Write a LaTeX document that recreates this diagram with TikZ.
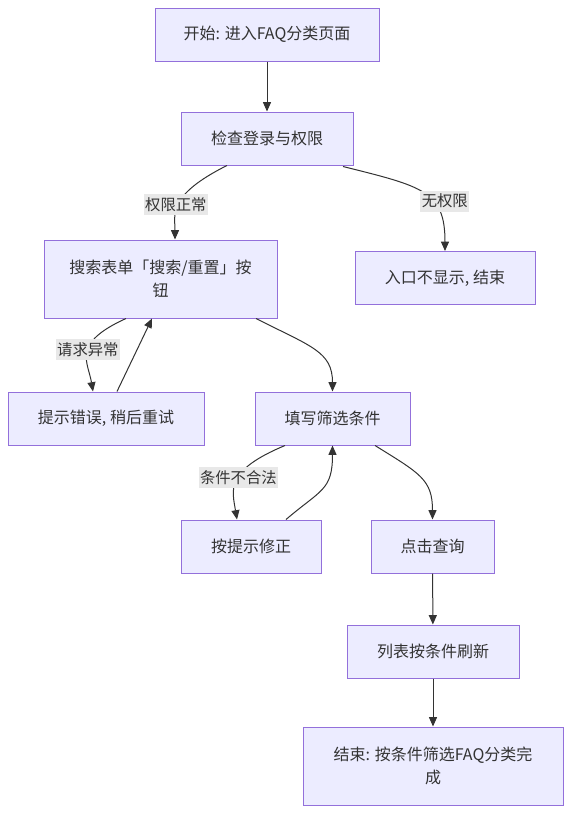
\documentclass[tikz,border=0pt]{standalone}
\usepackage{fontspec}
\setmainfont{Noto Sans CJK SC}
\usetikzlibrary{arrows.meta,automata}
\usetikzlibrary{positioning}
\usetikzlibrary{calc}
\definecolor{boxfill}{HTML}{ECECFF}
\definecolor{boxline}{HTML}{9370DB}
\definecolor{ink}{HTML}{333333}
\definecolor{labelbg}{HTML}{E8E8E8}

\begin{document}
\begin{tikzpicture}[x=0.75pt,y=-0.75pt,->,>={Triangle[length=7pt,width=6pt]},
					draw=ink,line width=0.75pt,text=ink,
					font=\fontsize{12}{17}\selectfont]
					\tikzstyle{every state}=[shape=rectangle,draw=boxline,fill=boxfill,
					minimum height=39.75pt,inner sep=0pt,align=center,text=ink]
					\tikzstyle{tall}=[minimum height=58.5pt]
					\tikzstyle{cond}=[fill=labelbg,inner xsep=1pt,inner ysep=2.5pt,text=ink,
					font=\fontsize{11.5}{13}\selectfont]
					\useasboundingbox (0,0) rectangle (571,814);
					
					\node[state,minimum width=168pt]      (start)   at (267,34.5)  {开始: 进入FAQ分类页面};
					\node[state,minimum width=129pt]      (check)   at (267,138.5) {检查登录与权限};
					\node[state,tall,minimum width=174.75pt] (search) at (160.5,279) {搜索表单「搜索/重置」按\\钮};
					\node[state,minimum width=135pt]      (noperm)  at (445,278)   {入口不显示, 结束};
					\node[state,minimum width=147pt]      (retry)   at (106,418.5) {提示错误, 稍后重试};
					\node[state,minimum width=116.25pt]   (fill)    at (332.5,418.5) {填写筛选条件};
					\node[state,minimum width=105pt]      (fix)     at (251,546.5) {按提示修正};
					\node[state,minimum width=92.25pt]    (click)   at (432.5,546.5) {点击查询};
					\node[state,minimum width=129pt]      (refresh) at (433,651.5) {列表按条件刷新};
					\node[state,tall,minimum width=195pt] (finish)  at (433,766)   {结束: 按条件筛选FAQ分类完\\成};
					
					\path (start) edge (check)
					($(retry.north)+(11,0)$) edge ($(search.south)+(-8.5,0)$)
					(click) edge (refresh)
					(refresh) edge (finish);
					
					\draw ($(check.south)+(-40,0)$) .. controls +(-60,30) and +(0,-25) .. node[cond,pos=0.5,xshift=-2pt] {权限正常} ($(search.north)+(14.5,0)$);
					\draw ($(check.south)+(76,1)$) .. controls +(80,20) and +(0,-60) .. node[cond,pos=0.6,xshift=9.5pt] {无权限} (noperm.north);
					\draw ($(search.south)+(-34.5,0)$) .. controls +(-55,25) and +(-5,-30) .. node[cond,pos=0.45] {请求异常} ($(retry.north)+(-13,0)$);
					\draw ($(search.south)+(95.5,0)$) .. controls +(55,28) and +(0,-40) .. (fill.north);
					\draw ($(fill.south)+(-47.5,0)$) .. controls +(-60,25) and +(-5,-30) .. node[cond,pos=0.45] {条件不合法} ($(fix.north)+(-14,0)$);
					\draw ($(fix.north)+(35,0)$) .. controls +(35,-30) and +(0,45) .. (fill.south);
					\draw ($(fill.south)+(42.5,0)$) .. controls +(45,28) and +(0,-40) .. (click.north);
\end{tikzpicture}
\end{document}
